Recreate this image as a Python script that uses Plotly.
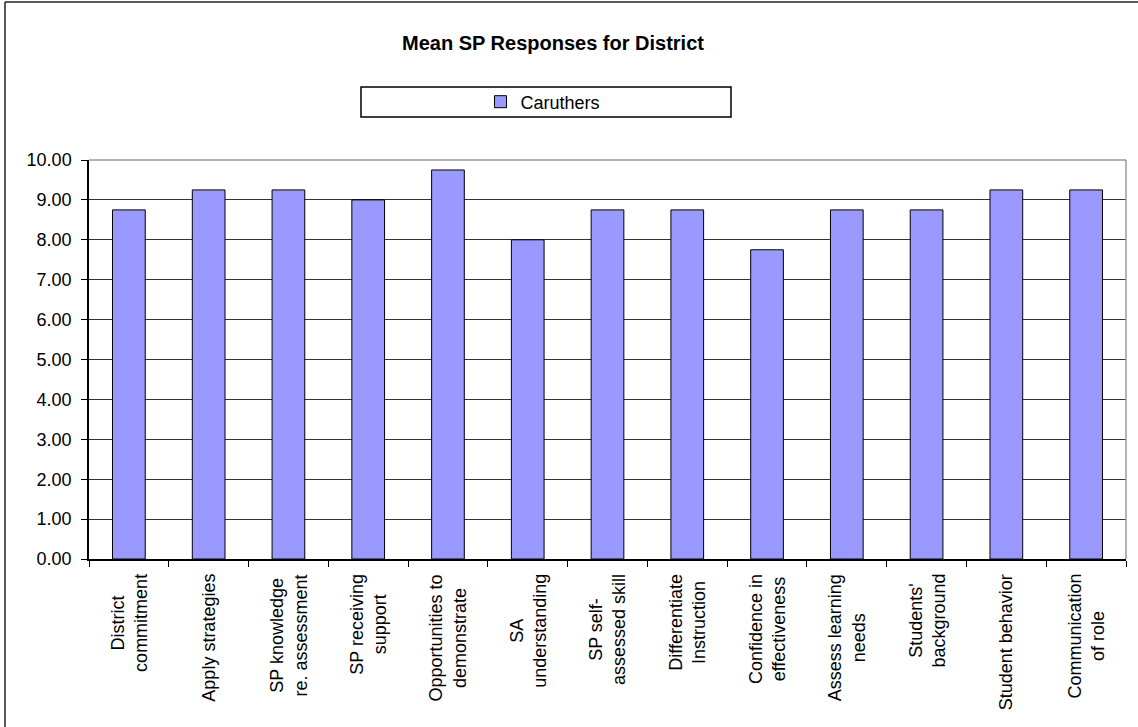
import plotly.graph_objects as go

# Survey item categories (two-line labels where they wrap)
categories = [
    "District<br>commitment",
    "Apply strategies",
    "SP knowledge<br>re. assessment",
    "SP receiving<br>support",
    "Opportunities to<br>demonstrate",
    "SA<br>understanding",
    "SP self-<br>assessed skill",
    "Differentiate<br>Instruction",
    "Confidence in<br>effectiveness",
    "Assess learning<br>needs",
    "Students'<br>background",
    "Student behavior",
    "Communication<br>of role",
]

# Mean responses for the district
caruthers = [8.75, 9.25, 9.25, 9.00, 9.75, 8.00, 8.75, 8.75, 7.75, 8.75, 8.75, 9.25, 9.25]

y_ticks = [0, 1, 2, 3, 4, 5, 6, 7, 8, 9, 10]

FONT = "Arial, Liberation Sans, sans-serif"

W, H = 1138, 727
L, R, T, B = 89, 12, 160, 168
PW, PH = W - L - R, H - T - B


def px_x(x):
    return (x - L) / PW


def px_y(y):
    return (H - B - y) / PH


fig = go.Figure()
fig.add_trace(go.Bar(
    x=categories,
    y=caruthers,
    name="Caruthers",
    marker=dict(color="#9999FF", line=dict(color="#000000", width=1)),
))

# Category labels, rotated with centred lines
annotations = [
    dict(
        x=c, y=px_y(572), xref="x", yref="paper",
        text=c, textangle=-90, align="center",
        xanchor="center", yanchor="top", showarrow=False,
        font=dict(family=FONT, size=18, color="#000000"),
    )
    for c in categories
]

shapes = [
    # plot-area top and right edges
    dict(type="line", xref="paper", yref="paper", x0=0, x1=1, y0=1, y1=1,
         line=dict(color="#999999", width=1.5)),
    dict(type="line", xref="paper", yref="paper", x0=1, x1=1, y0=0, y1=1,
         line=dict(color="#999999", width=1.5)),
    # chart frame (left and top)
    dict(type="line", xref="paper", yref="paper",
         x0=px_x(5), x1=px_x(5), y0=px_y(2), y1=px_y(740),
         line=dict(color="#222222", width=1.5)),
    dict(type="line", xref="paper", yref="paper",
         x0=px_x(5), x1=px_x(1150), y0=px_y(2), y1=px_y(2),
         line=dict(color="#222222", width=1.5)),
    # legend box
    dict(type="rect", xref="paper", yref="paper",
         x0=px_x(361), x1=px_x(731), y0=px_y(117), y1=px_y(87),
         line=dict(color="#000000", width=1.5), fillcolor="rgba(0,0,0,0)"),
]

fig.update_layout(
    width=W, height=H,
    margin=dict(l=L, r=R, t=T, b=B, pad=0),
    paper_bgcolor="#FFFFFF",
    plot_bgcolor="#FFFFFF",
    font=dict(family=FONT, size=18, color="#000000"),
    bargap=0.59,
    title=dict(
        text="<b>Mean SP Responses for District</b>",
        x=px_x(553), xref="paper", xanchor="center",
        y=1 - 43 / H, yref="container", yanchor="middle",
        font=dict(family=FONT, size=20, color="#000000"),
    ),
    showlegend=True,
    legend=dict(
        orientation="h",
        x=px_x(543), xanchor="center",
        y=px_y(102), yanchor="middle",
        bgcolor="rgba(0,0,0,0)", borderwidth=0,
        font=dict(family=FONT, size=18, color="#000000"),
    ),
    annotations=annotations,
    shapes=shapes,
)

fig.update_xaxes(
    type="category",
    showticklabels=False,
    ticks="outside", ticklen=6, tickcolor="#000000", tickwidth=1,
    tickson="boundaries",
    showline=True, linecolor="#000000", linewidth=1.5,
    showgrid=False,
)

fig.update_yaxes(
    range=[0, 10],
    tickvals=y_ticks,
    tickformat=".2f",
    ticks="outside", ticklen=6, tickcolor="#000000", tickwidth=1,
    ticklabelstandoff=6,
    showline=True, linecolor="#000000", linewidth=1.5,
    showgrid=True, gridcolor="#333333", gridwidth=1,
    zeroline=False,
    tickfont=dict(family=FONT, size=18, color="#000000"),
)

fig.write_html("out.html")
